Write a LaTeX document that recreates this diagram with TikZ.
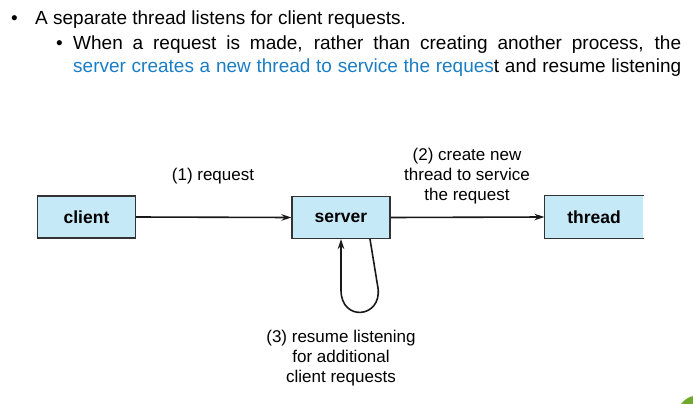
\documentclass[tikz,border=0pt]{standalone}
\usepackage{fontspec}
\setmainfont{Liberation Sans}
\usetikzlibrary{arrows.meta}
\definecolor{boxfill}{HTML}{C6E9F8}
\definecolor{boxline}{HTML}{333333}
\definecolor{slideblue}{HTML}{1A7DC4}
\definecolor{leafgreen}{HTML}{6FA82A}
\tikzset{
  box/.style={minimum width=98pt, minimum height=42pt, inner sep=0pt, fill=boxfill, draw=boxline, line width=1.2pt, font=\fontsize{17.5}{20}\selectfont\bfseries},
  openbox/.style={box, draw=none},
  conn/.style={line width=1.6pt, draw=black!90, -{Stealth[length=10pt,width=6.5pt]}},
  lbl/.style={font=\fontsize{17}{20}\selectfont, align=center, inner sep=0pt},
  top/.style={font=\fontsize{19}{24}\selectfont, inner sep=0pt, anchor=base west}
}
\begin{document}
\begin{tikzpicture}[x=1pt,y=-1pt]
\useasboundingbox (0,0) rectangle (693,404);
% bullets
\node[top] (b1) at (11,25) {•};
\node[top] (t1) at (35,25) {A separate thread listens for client requests.};
\node[top] (b2) at (56,49) {•};
\node[top] (t2) at (73,49) {\hbox to 608pt{When a request is made, rather than creating another process, the}};
\node[top] (t3) at (73,73) {\hbox to 608pt{{\color{slideblue}server creates a new thread to service the reques}t and resume listening}};
% boxes
\node[box] (client) at (86.5,217) {client};
\node[box] (server) at (341,217.5) {server};
\node[openbox] (thread) at (594,217) {thread};
\draw[boxline, line width=1.2pt] (thread.north east) -- (thread.north west) -- (thread.south west) -- (thread.south east);
% connectors
\draw[conn] (client.east) -- (server.west);
\draw[conn] (server.east) -- (thread.west);
\draw[conn] ([xshift=29pt]server.south) -- ++(8,49) .. controls ++(4,30) and ++(0,32) .. ++(-37,2) -- (server.south);
% labels
\node[lbl] (l1) at (213,176) {(1) request};
\node[lbl] (l2) at (467,176) {(2) create new\\thread to service\\the request};
\node[lbl] (l3) at (341,358) {(3) resume listening\\for additional\\client requests};
% corner decoration
\fill[leafgreen] (681,404) .. controls (685,399) and (689,397) .. (693,396) -- (693,404) -- cycle;
\end{tikzpicture}
\end{document}
